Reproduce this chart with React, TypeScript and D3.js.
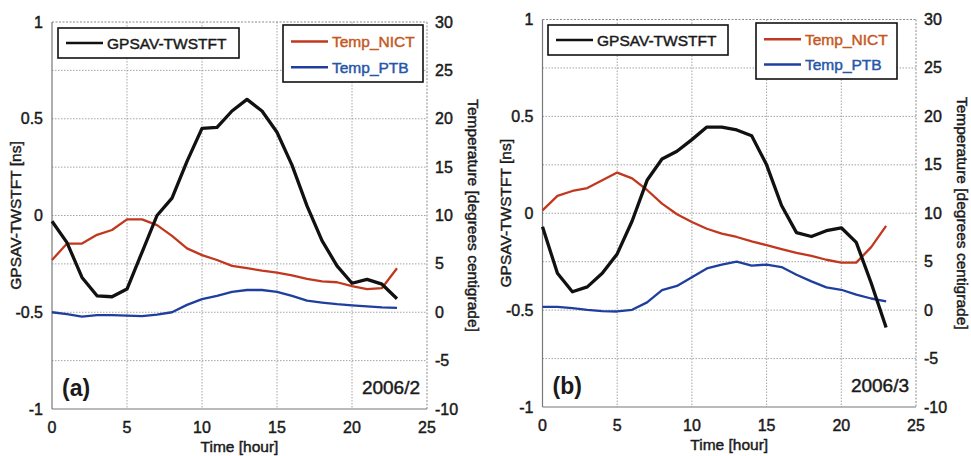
import React from "react";
import * as d3 from "d3";

const hours = [0, 1, 2, 3, 4, 5, 6, 7, 8, 9, 10, 11, 12, 13, 14, 15, 16, 17, 18, 19, 20, 21, 22, 23];

const gpsA = [-0.03, -0.14, -0.32, -0.415, -0.42, -0.38, -0.19, 0.0, 0.09, 0.28, 0.45, 0.455, 0.54, 0.6, 0.54, 0.43, 0.26, 0.05, -0.13, -0.26, -0.35, -0.33, -0.355, -0.43];
const nictA = [5.4, 7.1, 7.1, 8.0, 8.5, 9.6, 9.6, 9.0, 7.9, 6.6, 5.9, 5.4, 4.8, 4.55, 4.3, 4.1, 3.8, 3.45, 3.2, 3.1, 2.7, 2.4, 2.5, 4.55];
const ptbA = [0.0, -0.2, -0.45, -0.3, -0.3, -0.35, -0.4, -0.25, 0.0, 0.76, 1.35, 1.7, 2.1, 2.3, 2.3, 2.1, 1.7, 1.2, 1.0, 0.83, 0.7, 0.6, 0.5, 0.45];

const gpsB = [-0.07, -0.31, -0.405, -0.38, -0.31, -0.21, -0.04, 0.17, 0.28, 0.32, 0.38, 0.445, 0.445, 0.43, 0.4, 0.25, 0.04, -0.1, -0.12, -0.09, -0.075, -0.15, -0.36, -0.59];
const nictB = [10.3, 11.8, 12.3, 12.6, 13.4, 14.2, 13.6, 12.4, 11.0, 9.9, 9.1, 8.4, 7.9, 7.55, 7.1, 6.7, 6.3, 5.9, 5.6, 5.2, 4.9, 4.9, 6.5, 8.7];
const ptbB = [0.34, 0.34, 0.2, 0.03, -0.1, -0.14, 0.03, 0.8, 2.07, 2.5, 3.4, 4.3, 4.7, 5.0, 4.6, 4.7, 4.45, 3.65, 2.97, 2.35, 2.1, 1.6, 1.2, 0.9];

const xTicks = [0, 5, 10, 15, 20, 25];
const leftTicks = [-1, -0.5, 0, 0.5, 1];
const leftGrid = [-0.75, -0.5, -0.25, 0, 0.25, 0.5, 0.75];
const rightTicks = [-10, -5, 0, 5, 10, 15, 20, 25, 30];

const seriesNames = ["GPSAV-TWSTFT", "Temp_NICT", "Temp_PTB"];
const panelTags = ["(a)", "(b)"];
const panelDates = ["2006/2", "2006/3"];

const FONT = "'Liberation Sans', Arial, sans-serif";
const RED = "#c0391f";
const BLUE = "#1f3f9f";
const RED_TXT = "#c4581f";
const BLUE_TXT = "#2656a8";
const INK = "#1a1a1a";

type PanelProps = {
  ox: number;
  left: number;
  right: number;
  top: number;
  bottom: number;
  gps: number[];
  nict: number[];
  ptb: number[];
  tag: string;
  date: string;
  leg1: [number, number, number, number];
  leg2: [number, number, number, number];
};

const heavy = (c: string) => ({ fill: c, stroke: c, strokeWidth: 0.45 });

function Panel(p: PanelProps) {
  const x = d3.scaleLinear().domain([0, 25]).range([p.left, p.right]);
  const y = d3.scaleLinear().domain([-1, 1]).range([p.bottom, p.top]);
  const t = d3.scaleLinear().domain([-10, 30]).range([p.bottom, p.top]);
  const lineL = d3.line<number>().x((_, i) => x(hours[i])).y((d) => y(d));
  const lineT = d3.line<number>().x((_, i) => x(hours[i])).y((d) => t(d));
  const [l1x, l1y, l1w, l1h] = p.leg1;
  const [l2x, l2y, l2w, l2h] = p.leg2;
  const midY = (p.top + p.bottom) / 2;
  return (
    <g fontFamily={FONT}>
      {xTicks.slice(1, -1).map((v) => (
        <line key={"gx" + v} x1={x(v)} x2={x(v)} y1={p.top} y2={p.bottom} stroke="#9a9a9a" strokeWidth={0.9} strokeDasharray="1.5,1.5" />
      ))}
      {leftGrid.map((v) => (
        <line key={"gy" + v} x1={p.left} x2={p.right} y1={y(v)} y2={y(v)} stroke="#9a9a9a" strokeWidth={0.9} strokeDasharray="1.5,1.5" />
      ))}
      <line x1={p.left} x2={p.right} y1={p.top} y2={p.top} stroke="#8a8a8a" strokeWidth={1} strokeDasharray="2,1.5" />
      <line x1={p.right} x2={p.right} y1={p.top} y2={p.bottom} stroke="#8a8a8a" strokeWidth={1} strokeDasharray="2,1.5" />
      <line x1={p.left} x2={p.left} y1={p.top} y2={p.bottom} stroke="#777" strokeWidth={1.2} />
      <line x1={p.left} x2={p.right} y1={p.bottom} y2={p.bottom} stroke="#777" strokeWidth={1.2} />
      <path d={lineT(p.ptb) || ""} fill="none" stroke={BLUE} strokeWidth={2.3} strokeLinejoin="round" />
      <path d={lineT(p.nict) || ""} fill="none" stroke={RED} strokeWidth={2.3} strokeLinejoin="round" />
      <path d={lineL(p.gps) || ""} fill="none" stroke="#111" strokeWidth={3.3} strokeLinejoin="round" />
      {leftTicks.map((v) => (
        <text key={"lt" + v} x={p.left - 9} y={y(v) + 5.5} textAnchor="end" fontSize={16} {...heavy(INK)}>
          {String(v)}
        </text>
      ))}
      {rightTicks.map((v) => (
        <text key={"rt" + v} x={p.right + 8} y={t(v) + 5.5} textAnchor="start" fontSize={16} {...heavy(INK)}>
          {String(v)}
        </text>
      ))}
      {xTicks.map((v) => (
        <text key={"xt" + v} x={x(v)} y={p.bottom + 24} textAnchor="middle" fontSize={16} {...heavy(INK)}>
          {String(v)}
        </text>
      ))}
      <text x={(p.left + p.right) / 2} y={p.bottom + 43} textAnchor="middle" fontSize={15.5} {...heavy(INK)}>
        Time [hour]
      </text>
      <text transform={`translate(${p.ox + 21},${midY}) rotate(-90)`} textAnchor="middle" fontSize={15.5} {...heavy(INK)}>
        GPSAV-TWSTFT [ns]
      </text>
      <text transform={`translate(${p.right + 41},${midY}) rotate(90)`} textAnchor="middle" fontSize={15.5} {...heavy(INK)}>
        Temperature [degrees centigrade]
      </text>
      <text x={p.left + 10} y={p.bottom - 13} fontSize={23} fontWeight="bold" fill={INK}>
        {p.tag}
      </text>
      <text x={p.right - 7} y={p.bottom - 15} textAnchor="end" fontSize={19} {...heavy(INK)}>
        {p.date}
      </text>
      <rect x={l1x} y={l1y} width={l1w} height={l1h} fill="#fff" stroke="#111" strokeWidth={1.6} />
      <line x1={l1x + 8} x2={l1x + 45} y1={l1y + l1h / 2} y2={l1y + l1h / 2} stroke="#111" strokeWidth={2.4} />
      <text x={l1x + 49} y={l1y + l1h / 2 + 5.5} fontSize={15.5} {...heavy(INK)}>
        {seriesNames[0]}
      </text>
      <rect x={l2x} y={l2y} width={l2w} height={l2h} fill="#fff" stroke="#111" strokeWidth={1.6} />
      <line x1={l2x + 8} x2={l2x + 45} y1={l2y + l2h * 0.29} y2={l2y + l2h * 0.29} stroke={RED} strokeWidth={2.4} />
      <text x={l2x + 49} y={l2y + l2h * 0.29 + 5.5} fontSize={15.5} {...heavy(RED_TXT)}>
        {seriesNames[1]}
      </text>
      <line x1={l2x + 8} x2={l2x + 45} y1={l2y + l2h * 0.74} y2={l2y + l2h * 0.74} stroke={BLUE} strokeWidth={2.4} />
      <text x={l2x + 49} y={l2y + l2h * 0.74 + 5.5} fontSize={15.5} {...heavy(BLUE_TXT)}>
        {seriesNames[2]}
      </text>
    </g>
  );
}

export default function App() {
  return (
    <svg width={971} height={456} style={{ position: "absolute", left: 0, top: 0, background: "#fff" }}>
      <rect width={971} height={456} fill="#fff" />
      <Panel
        ox={0}
        left={52}
        right={427}
        top={22}
        bottom={409}
        gps={gpsA}
        nict={nictA}
        ptb={ptbA}
        tag={panelTags[0]}
        date={panelDates[0]}
        leg1={[58, 28, 181, 30]}
        leg2={[283, 25, 140, 57]}
      />
      <Panel
        ox={490}
        left={542.5}
        right={916}
        top={19.5}
        bottom={407}
        gps={gpsB}
        nict={nictB}
        ptb={ptbB}
        tag={panelTags[1]}
        date={panelDates[1]}
        leg1={[548, 25, 180, 30]}
        leg2={[756, 23, 141, 56]}
      />
    </svg>
  );
}
